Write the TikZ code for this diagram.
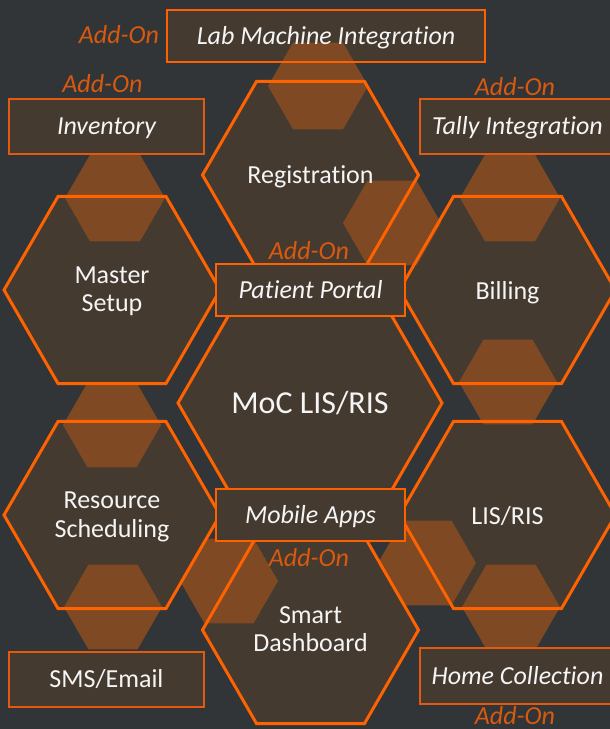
\documentclass[tikz,border=0pt]{standalone}
\usepackage{fontspec}
\setmainfont[Ligatures={NoCommon}]{Carlito}
\definecolor{bgc}{HTML}{323537}
\definecolor{hexfill}{HTML}{453A30}
\definecolor{hexline}{HTML}{FF6200}
\definecolor{boxlineA}{HTML}{FF6000}
\definecolor{boxlineB}{HTML}{E3590E}
\definecolor{addon}{HTML}{D9590F}
\definecolor{linkc}{HTML}{7E4923}
\definecolor{txt}{HTML}{F5F5F5}
\newcommand\hexat[3]{({#1-#3},{#2}) -- ({#1-#3/2},{#2-0.8660254*#3}) -- ({#1+#3/2},{#2-0.8660254*#3}) -- ({#1+#3},{#2}) -- ({#1+#3/2},{#2+0.8660254*#3}) -- ({#1-#3/2},{#2+0.8660254*#3}) -- cycle}
\begin{document}
\begin{tikzpicture}[x=1pt,y=-1pt,
  hexbody/.style={fill=hexfill},
  hexedge/.style={draw=hexline,line width=3pt,line join=miter},
  linkhex/.style={fill=linkc},
  boxbase/.style={rectangle,inner sep=0pt,line width=2.5pt,text=txt,
    font=\fontsize{26}{29}\selectfont,text height=16.7pt,text depth=0pt},
  boxA/.style={boxbase,draw=boxlineA,fill=hexfill},
  boxB/.style={boxbase,draw=boxlineB,fill=hexfill},
  hexlabel/.style={anchor=base,inner sep=0pt,text=txt,font=\fontsize{26}{29}\selectfont},
  addonlabel/.style={anchor=base,inner sep=0pt,text=addon,font=\fontsize{26}{29}\selectfont\itshape}]
\useasboundingbox (0,0) rectangle (610,729);
\fill[bgc] (0,0) rectangle (610,729);
% big hexagon bodies
\fill[hexbody] \hexat{310.5}{175}{108};
\fill[hexbody] \hexat{112}{290}{108};
\fill[hexbody] \hexat{507.5}{290}{108};
\fill[hexbody] \hexat{310}{403}{132};
\fill[hexbody] \hexat{112}{515}{108};
\fill[hexbody] \hexat{507.5}{515}{108};
\fill[hexbody] \hexat{310.5}{630}{108};
% Lab box body (under link hexagon)
\fill[hexfill] (167,10) rectangle (485,62);
% link hexagons
\fill[linkhex] \hexat{115}{198}{50};
\fill[linkhex] \hexat{318}{86}{50};
\fill[linkhex] \hexat{510}{198}{50};
\fill[linkhex] \hexat{392}{223}{49};
\fill[linkhex] \hexat{112}{425}{49};
\fill[linkhex] \hexat{508}{382}{49};
\fill[linkhex] \hexat{113}{607}{49};
\fill[linkhex] \hexat{229}{581}{49};
\fill[linkhex] \hexat{427}{563}{49};
\fill[linkhex] \hexat{511}{607}{49};
% big hexagon edges
\draw[hexedge] \hexat{310.5}{175}{108};
\draw[hexedge] \hexat{112}{290}{108};
\draw[hexedge] \hexat{507.5}{290}{108};
\draw[hexedge] \hexat{310}{403}{132};
\draw[hexedge] \hexat{112}{515}{108};
\draw[hexedge] \hexat{507.5}{515}{108};
\draw[hexedge] \hexat{310.5}{630}{108};
% boxes
\node[boxbase,draw=boxlineA,minimum width=318pt,minimum height=52pt,font=\fontsize{26}{29}\selectfont\itshape] (lab) at (326,36) {Lab Machine Integration};
\node[boxB,minimum width=195pt,minimum height=55pt,font=\fontsize{26}{29}\selectfont\itshape] (inv) at (106.5,126.5) {Inventory};
\node[boxB,minimum width=195pt,minimum height=55pt,font=\fontsize{26}{29}\selectfont\itshape] (tally) at (517.5,126.5) {Tally Integration};
\node[boxA,minimum width=189pt,minimum height=52pt,font=\fontsize{26}{29}\selectfont\itshape] (portal) at (310.5,290) {Patient Portal};
\node[boxA,minimum width=189pt,minimum height=52pt,font=\fontsize{26}{29}\selectfont\itshape] (mobile) at (310.5,515) {Mobile Apps};
\node[boxB,minimum width=195pt,minimum height=55pt] (sms) at (106.5,679.5) {SMS/Email};
\node[boxB,minimum width=195pt,minimum height=56pt,font=\fontsize{26}{29}\selectfont\itshape] (home) at (517.5,676) {Home Collection};
% hexagon labels
\node[hexlabel] (reg) at (310.5,183.5) {Registration};
\node[hexlabel] (mas1) at (112,283.5) {Master};
\node[hexlabel] (mas2) at (112,311.5) {Setup};
\node[hexlabel] (bill) at (507.5,299) {Billing};
\node[hexlabel,font=\fontsize{32}{36}\selectfont] (moc) at (310,413) {MoC LIS/RIS};
\node[hexlabel] (res1) at (112,508.5) {Resource};
\node[hexlabel] (res2) at (112,537.5) {Scheduling};
\node[hexlabel] (lis) at (507.5,524) {LIS/RIS};
\node[hexlabel] (sd1) at (310.5,623.5) {Smart};
\node[hexlabel] (sd2) at (310.5,651.5) {Dashboard};
% add-on labels
\node[addonlabel] (a1) at (119,43.5) {Add-On};
\node[addonlabel] (a2) at (102.5,92) {Add-On};
\node[addonlabel] (a3) at (515,95) {Add-On};
\node[addonlabel] (a4) at (309,259) {Add-On};
\node[addonlabel] (a5) at (309,566) {Add-On};
\node[addonlabel] (a6) at (515,724) {Add-On};
\end{tikzpicture}
\end{document}
